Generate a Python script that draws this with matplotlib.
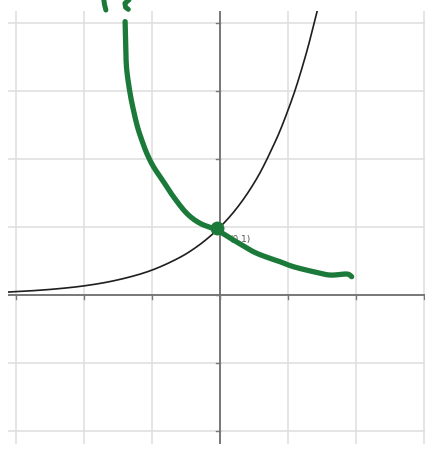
import matplotlib
matplotlib.use("Agg")
import matplotlib.pyplot as plt
import numpy as np

# Grid and axis ranges
x_grid = [-3, -2, -1, 0, 1, 2, 3]
y_grid = [-2, -1, 0, 1, 2, 3, 4]
x_range = (-3.12, 3.015)
y_range = (-2.19, 4.176)

# Black curve: y = e^x
exp_x = [-3.12, -2.8, -2.4, -2.0, -1.6, -1.2, -0.9, -0.6, -0.4, -0.2, 0.0,
         0.2, 0.4, 0.6, 0.8, 0.9, 1.0, 1.1, 1.2, 1.3, 1.43]
exp_y = [0.044, 0.061, 0.091, 0.135, 0.202, 0.301, 0.407, 0.549, 0.670, 0.819, 1.0,
         1.22, 1.49, 1.82, 2.23, 2.46, 2.72, 3.00, 3.32, 3.67, 4.18]

# Green hand-drawn reflection y = e^(-x)
pen_x = [-1.397, -1.387, -1.373, -1.324, -1.275, -1.216, -1.152, -1.078, -0.980,
         -0.833, -0.686, -0.490, -0.294, -0.049, 0.196, 0.490, 0.735, 0.882,
         1.078, 1.373, 1.618, 1.863, 1.936]
pen_y = [4.020, 3.603, 3.309, 2.966, 2.721, 2.475, 2.279, 2.083, 1.887,
         1.667, 1.446, 1.201, 1.054, 0.956, 0.809, 0.637, 0.539, 0.490,
         0.417, 0.343, 0.294, 0.309, 0.270]

# Scribbled strokes above the plot
scrib1_x = [-1.71, -1.70, -1.68]
scrib1_y = [4.34, 4.27, 4.19]
scrib2_x = [-1.34, -1.40, -1.39, -1.35]
scrib2_y = [4.34, 4.29, 4.23, 4.20]

point = (0, 1)
point_label = "(0,1)"

green = "#1b7a3a"


def smooth(xs, ys, n=12):
    """Catmull-Rom path through the given points, for drawing smooth strokes."""
    p = np.column_stack([xs, ys]).astype(float)
    p = np.vstack([2 * p[0] - p[1], p, 2 * p[-1] - p[-2]])
    out = []
    t = np.linspace(0, 1, n, endpoint=False)[:, None]
    for i in range(1, len(p) - 2):
        p0, p1, p2, p3 = p[i - 1], p[i], p[i + 1], p[i + 2]
        seg = 0.5 * ((2 * p1) + (-p0 + p2) * t + (2 * p0 - 5 * p1 + 4 * p2 - p3) * t ** 2
                     + (-p0 + 3 * p1 - 3 * p2 + p3) * t ** 3)
        out.append(seg)
    out.append(p[-2][None, :])
    out = np.vstack(out)
    return out[:, 0], out[:, 1]


fig = plt.figure(figsize=(4.25, 4.49), dpi=100)
ax = fig.add_axes([8 / 425, 5 / 449, 417 / 425, 433 / 449])
ax.set_xlim(*x_range)
ax.set_ylim(*y_range)
ax.axis("off")

for gx in x_grid:
    ax.axvline(gx, color="#dedede", lw=1.1, zorder=1)
for gy in y_grid:
    ax.axhline(gy, color="#dedede", lw=1.1, zorder=1)

# Axes
ax.axhline(0, color="#5a5a5a", lw=1.1, zorder=2)
ax.axvline(0, color="#5a5a5a", lw=1.1, zorder=2)
for gx in x_grid:
    ax.plot([gx, gx], [0, -0.06], color="#777777", lw=1.0, zorder=2)
for gy in y_grid:
    ax.plot([-0.06, 0], [gy, gy], color="#777777", lw=1.0, zorder=2)

sx, sy = smooth(exp_x, exp_y)
ax.plot(sx, sy, color="#1e1e1e", lw=1.2, zorder=3)

ax.text(point[0] + 0.14, point[1] - 0.19, point_label, fontsize=6.5, color="#555555",
        ha="left", va="center", zorder=3)

gx_s, gy_s = smooth(pen_x, pen_y)
ax.plot(gx_s, gy_s, color=green, lw=3.8, zorder=4,
        solid_capstyle="round", solid_joinstyle="round")
ax.plot([point[0] - 0.05], [point[1] - 0.02], marker="o", ms=9, color=green, zorder=5)

for xs_, ys_ in [(scrib1_x, scrib1_y), (scrib2_x, scrib2_y)]:
    ax.plot(xs_, ys_, color=green, lw=3.6, clip_on=False, zorder=5,
            solid_capstyle="round", solid_joinstyle="round")

fig.savefig("out.png", dpi=100)
